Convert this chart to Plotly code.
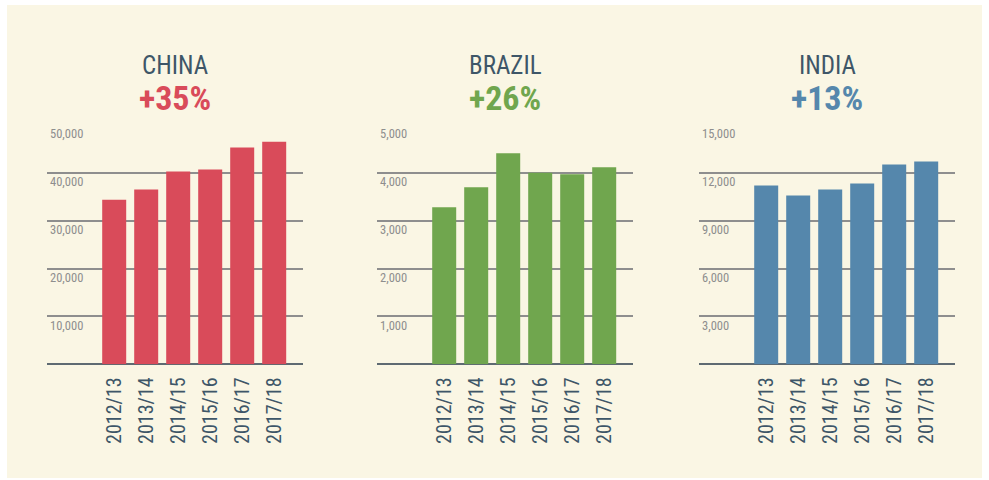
import plotly.graph_objects as go
from plotly.subplots import make_subplots

seasons = ['2012/13', '2013/14', '2014/15', '2015/16', '2016/17', '2017/18']

countries = ['CHINA', 'BRAZIL', 'INDIA']
growth_labels = ['+35%', '+26%', '+13%']

china_values = [34400, 36500, 40300, 40700, 45300, 46500]
brazil_values = [3280, 3700, 4410, 4000, 3970, 4115]
india_values = [11200, 10580, 10960, 11330, 12520, 12710]

china_ticks = [10000, 20000, 30000, 40000, 50000]
brazil_ticks = [1000, 2000, 3000, 4000, 5000]
india_ticks = [3000, 6000, 9000, 12000, 15000]

colors = ['#D94B5A', '#70A64E', '#5587AC']
CREAM = '#FAF6E4'
SLATE = '#3E5668'
NARROW = 'Roboto Condensed, Noto Sans Condensed, Liberation Sans Narrow, DejaVu Sans Condensed, sans-serif'

series = [china_values, brazil_values, india_values]
ticks = [china_ticks, brazil_ticks, india_ticks]
x_domains = [(47 / 989, 303 / 989), (377 / 989, 633 / 989), (699 / 989, 955 / 989)]

fig = make_subplots(rows=1, cols=3)

for i, (values, tv) in enumerate(zip(series, ticks)):
    col = i + 1
    fig.add_trace(
        go.Bar(x=seasons, y=values, marker=dict(color=colors[i], line=dict(width=0)),
               showlegend=False, hoverinfo='x+y'),
        row=1, col=col
    )
    fig.update_xaxes(
        domain=list(x_domains[i]), range=[-2.1, 5.9], type='category',
        tickangle=-90, showgrid=False, zeroline=False, showline=False,
        ticks='', ticklabelstandoff=8,
        tickfont=dict(family=NARROW, size=20, color=SLATE),
        row=1, col=col
    )
    fig.update_yaxes(
        domain=[0.241, 0.7396], range=[0, tv[-1]], tickvals=tv,
        tickformat=',d', ticklabelposition='inside bottom', ticks='',
        showgrid=True, gridcolor='#8E8E8E', gridwidth=1.5,
        zeroline=True, zerolinecolor='#5E6A72', zerolinewidth=2,
        showline=False,
        tickfont=dict(family=NARROW, size=12.5, color='#8E8E8E'),
        row=1, col=col
    )
    xc = (x_domains[i][0] + x_domains[i][1]) / 2
    fig.add_annotation(
        x=xc, y=(480 - 66) / 480, xref='paper', yref='paper', showarrow=False,
        xanchor='center', yanchor='middle',
        text=countries[i], font=dict(family=NARROW, size=25, color=SLATE)
    )
    fig.add_annotation(
        x=xc, y=(480 - 98) / 480, xref='paper', yref='paper', showarrow=False,
        xanchor='center', yanchor='middle',
        text='<b>' + growth_labels[i] + '</b>',
        font=dict(family=NARROW, size=34, color=colors[i])
    )

fig.add_shape(
    type='rect', xref='paper', yref='paper',
    x0=7 / 989, x1=982 / 989, y0=2 / 480, y1=475 / 480,
    fillcolor=CREAM, line=dict(width=0), layer='below'
)

fig.update_layout(
    width=989, height=480,
    margin=dict(l=0, r=0, t=0, b=0),
    paper_bgcolor='white', plot_bgcolor='rgba(0,0,0,0)',
    bargap=0.25,
)

fig.write_html("out.html", config={'displayModeBar': False},
               post_script="document.body.style.margin='0';")
